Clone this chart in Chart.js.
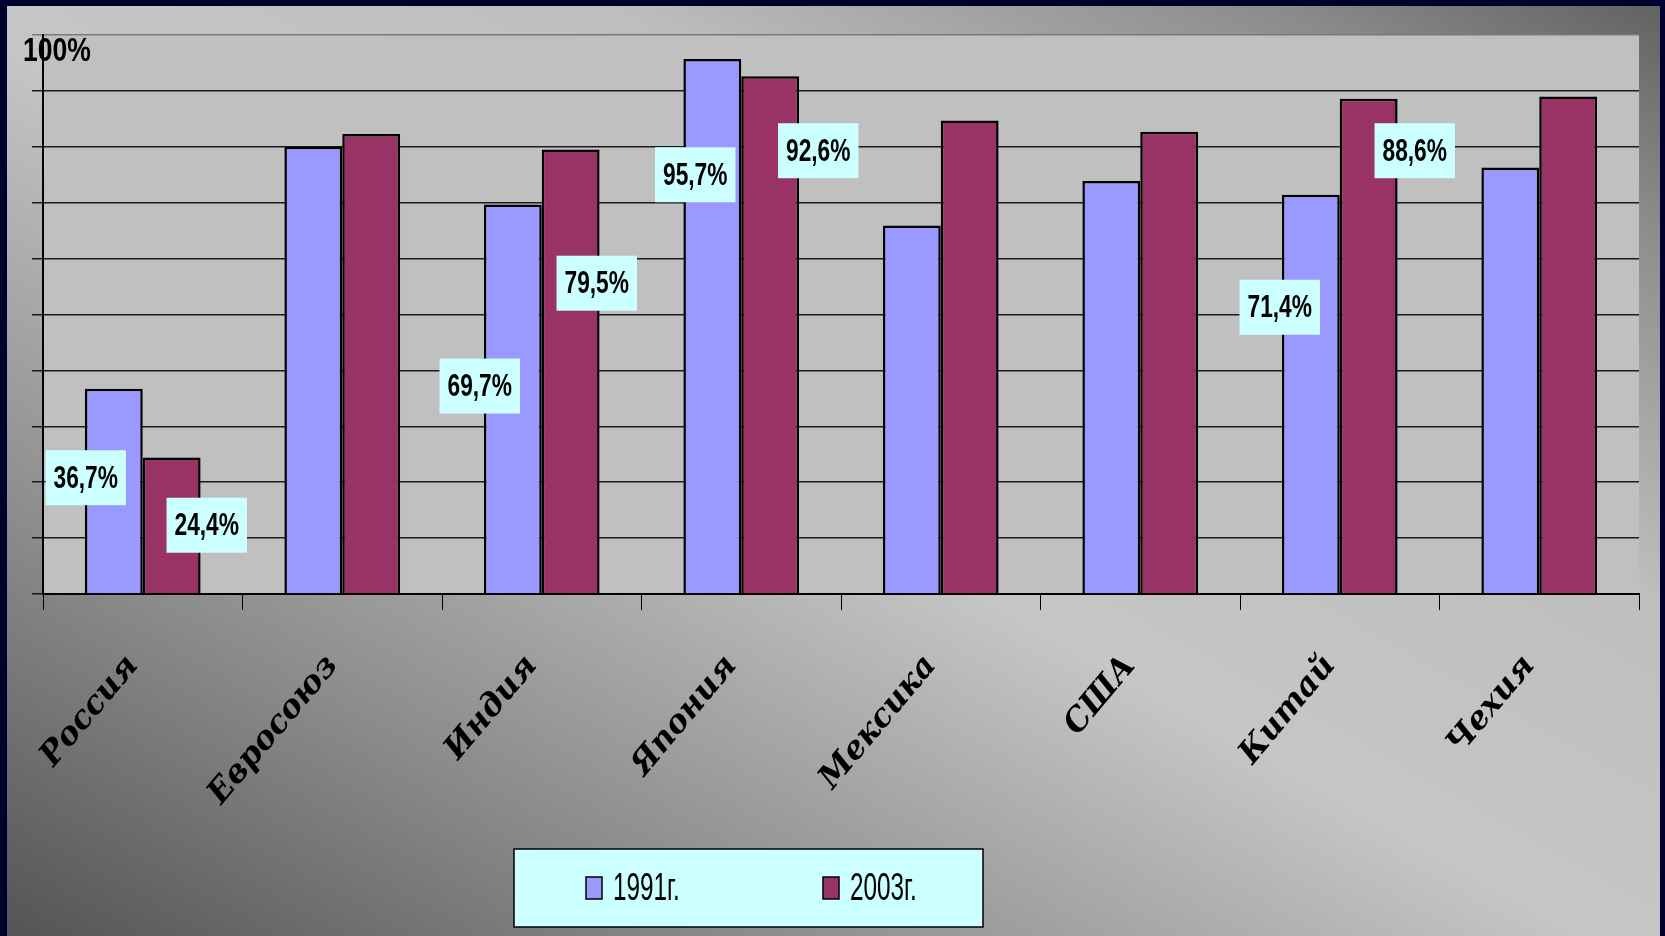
<!DOCTYPE html>
<html>
<head>
<meta charset="utf-8">
<script src="https://cdn.jsdelivr.net/npm/chart.js@4.4.1/dist/chart.umd.min.js"></script>
<style>
  html, body { margin: 0; padding: 0; background: #00002e; overflow: hidden; }
  #frame {
    position: absolute; left: 7px; top: 6px; width: 1653px; height: 930px;
    background: linear-gradient(to top right, #545454 0%, #8a8a8a 22%, #c6c6c6 48%, #bebebe 68%, #8c8c8c 88%, #626262 100%);
  }
  #wrap { position: absolute; left: 0; top: 0; width: 1665px; height: 936px; }
</style>
</head>
<body>
<div id="frame"></div>
<div id="wrap"><canvas id="chart"></canvas></div>
<script>
// данные
const countries = ['Россия', 'Евросоюз', 'Индия', 'Япония', 'Мексика', 'США', 'Китай', 'Чехия'];
const share1991 = [36.7, 80.0, 69.7, 95.7, 65.9, 73.9, 71.4, 76.3];
const share2003 = [24.4, 82.3, 79.5, 92.6, 84.7, 82.7, 88.6, 89.0];
const text1991 = ['36,7%', '', '69,7%', '95,7%', '', '', '71,4%', ''];
const text2003 = ['24,4%', '', '79,5%', '92,6%', '', '', '88,6%', ''];
const seriesNames = ['1991г.', '2003г.'];
const yTicks = [0, 10, 20, 30, 40, 50, 60, 70, 80, 90, 100];
const yTopLabel = '100%';

// where the boxes sit: [px from category centre, value on y axis]
const labelSpots = [
  [[-57, 20.8], null, [-62, 37.2], [-46, 75.0], null, null, [-60, 51.3], null],
  [[64, 12.3], null, [55, 55.6], [77, 79.3], null, null, [75, 79.3], null]
];

const SANS = '"Liberation Sans", Arial, sans-serif';

// narrow look: draw with horizontal squeeze
function squeezed(ctx, txt, x, y, sx) {
  ctx.save();
  ctx.translate(x, y);
  ctx.scale(sx, 1);
  ctx.fillText(txt, 0, 0);
  ctx.restore();
}

const plotBg = {
  id: 'plotBg',
  beforeDraw(chart) {
    const { ctx, chartArea: a } = chart;
    ctx.save();
    ctx.fillStyle = '#c0c0c0';
    ctx.fillRect(a.left, a.top, a.right - a.left, a.bottom - a.top);
    ctx.restore();
  }
};

const valueBoxes = {
  id: 'valueBoxes',
  afterDatasetsDraw(chart) {
    const { ctx, scales: { x, y } } = chart;
    const sx = 0.71;
    ctx.save();
    ctx.font = 'bold 32px ' + SANS;
    ctx.textAlign = 'center';
    ctx.textBaseline = 'middle';
    chart.data.datasets.forEach((ds, di) => {
      ds.boxText.forEach((txt, i) => {
        if (!txt) return;
        const spot = labelSpots[di][i];
        const cx = x.getPixelForValue(i) + spot[0];
        const cy = y.getPixelForValue(spot[1]);
        const w = ctx.measureText(txt).width * sx + 16;
        const h = 55;
        ctx.fillStyle = '#ccffff';
        ctx.fillRect(cx - w / 2, cy - h / 2, w, h);
        ctx.fillStyle = '#000';
        squeezed(ctx, txt, cx, cy + 1, sx);
      });
    });
    // top value of the axis, written over the axis line
    ctx.font = 'bold 34px ' + SANS;
    ctx.textAlign = 'left';
    squeezed(ctx, yTopLabel, 23, y.getPixelForValue(100) + 17, 0.78);
    ctx.restore();
  }
};

const boxLegend = {
  id: 'boxLegend',
  afterDraw(chart) {
    const ctx = chart.ctx;
    const o = chart.options.plugins.boxLegend;
    ctx.save();
    ctx.fillStyle = '#ccffff';
    ctx.fillRect(o.left, o.top, o.width, o.height);
    ctx.strokeStyle = '#000';
    ctx.lineWidth = 1.5;
    ctx.strokeRect(o.left, o.top, o.width, o.height);
    const cy = o.top + o.height / 2;
    ctx.font = '38px ' + SANS;
    ctx.textBaseline = 'middle';
    ctx.textAlign = 'left';
    chart.data.datasets.forEach((ds, i) => {
      const bx = o.itemX[i];
      ctx.fillStyle = ds.backgroundColor;
      ctx.fillRect(bx, cy - 11, 16, 22);
      ctx.lineWidth = 1.5;
      ctx.strokeRect(bx, cy - 11, 16, 22);
      ctx.fillStyle = '#000';
      squeezed(ctx, ds.label, bx + 27, cy + 2, 0.64);
    });
    ctx.restore();
  }
};

new Chart(document.getElementById('chart'), {
  type: 'bar',
  data: {
    labels: countries,
    datasets: [
      { label: seriesNames[0], data: share1991, boxText: text1991, backgroundColor: '#9999ff' },
      { label: seriesNames[1], data: share2003, boxText: text2003, backgroundColor: '#993366' }
    ]
  },
  plugins: [plotBg, valueBoxes, boxLegend],
  options: {
    responsive: true,
    maintainAspectRatio: false,
    animation: false,
    layout: { padding: { left: 23, right: 26, top: 35, bottom: 0 } },
    datasets: {
      bar: { categoryPercentage: 0.58, barPercentage: 1.0, borderColor: '#000', borderWidth: 2.5 }
    },
    scales: {
      x: {
        afterFit: s => { s.height = 342; },
        grid: { offset: true, drawOnChartArea: false, tickLength: 16, color: '#000', lineWidth: 1 },
        border: { color: '#000', width: 2 },
        ticks: {
          color: '#000',
          minRotation: 50, maxRotation: 50,
          padding: 38,
          labelOffset: -10,
          font: { family: '"DejaVu Serif", serif', size: 32, weight: 'bold', style: 'italic' }
        }
      },
      y: {
        min: 0, max: 100,
        afterFit: s => { s.width = 20; },
        afterBuildTicks: s => { s.ticks = yTicks.map(v => ({ value: v })); },
        grid: {
          tickLength: 11,
          lineWidth: 1.5,
          color: c => (c.tick && c.tick.value === 100 ? '#7a7a7a' : '#1a1a1a')
        },
        border: { color: '#000', width: 2 },
        ticks: { display: false }
      }
    },
    plugins: {
      legend: { display: false },
      tooltip: { enabled: false },
      boxLegend: { left: 514, top: 849, width: 469, height: 78, itemX: [586, 823] }
    }
  }
});
</script>
</body>
</html>
